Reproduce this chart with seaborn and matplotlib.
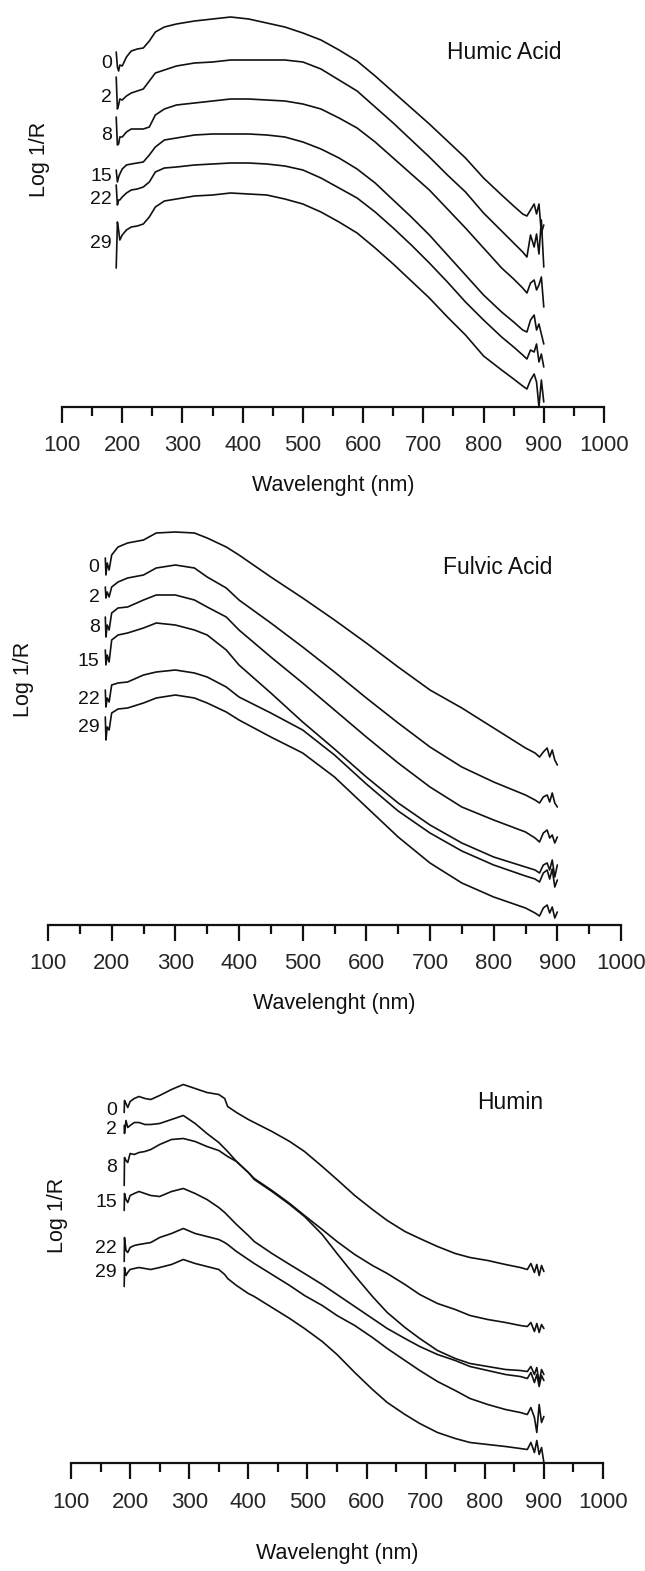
import pandas as pd
import seaborn as sns
import matplotlib.pyplot as plt

# sampling days shown next to each spectrum
days = ['0', '2', '8', '15', '22', '29']

# ---- Humic Acid (wavelength in nm, Log 1/R in arbitrary units) ----
humic_nm = [190, 192, 194, 196, 200, 207, 215, 225, 235, 245, 255, 270, 290, 320, 350, 380, 410, 440,
            470, 500, 530, 560, 590, 620, 650, 680, 710, 740, 770, 800, 830, 850, 865, 872, 878, 884,
            888, 892, 896, 900]
humic_0 = [3.55, 3.40, 3.36, 3.42, 3.41, 3.50, 3.56, 3.58, 3.59, 3.66, 3.75, 3.80, 3.83, 3.86, 3.88, 3.90,
           3.88, 3.84, 3.80, 3.74, 3.67, 3.57, 3.46, 3.31, 3.15, 2.99, 2.83, 2.66, 2.49, 2.29, 2.12, 2.01,
           1.93, 1.91, 1.97, 2.03, 1.93, 2.03, 1.74, 1.82]
humic_2 = [3.30, 2.98, 3.02, 3.08, 3.07, 3.11, 3.14, 3.16, 3.18, 3.26, 3.34, 3.37, 3.41, 3.44, 3.45, 3.47,
           3.47, 3.47, 3.47, 3.45, 3.38, 3.27, 3.16, 3.00, 2.84, 2.67, 2.50, 2.32, 2.15, 1.94, 1.76, 1.64,
           1.55, 1.50, 1.72, 1.60, 1.73, 1.53, 1.87, 1.40]
humic_8 = [2.90, 2.62, 2.63, 2.70, 2.70, 2.75, 2.78, 2.78, 2.78, 2.80, 2.92, 2.98, 3.02, 3.04, 3.06, 3.08,
           3.08, 3.07, 3.06, 3.03, 2.98, 2.89, 2.79, 2.65, 2.49, 2.33, 2.17, 1.98, 1.79, 1.59, 1.39, 1.28,
           1.19, 1.14, 1.24, 1.27, 1.17, 1.22, 1.30, 1.00]
humic_15 = [2.37, 2.25, 2.30, 2.33, 2.38, 2.42, 2.43, 2.44, 2.45, 2.52, 2.60, 2.67, 2.69, 2.72, 2.73, 2.73,
            2.73, 2.72, 2.70, 2.65, 2.58, 2.49, 2.38, 2.24, 2.07, 1.90, 1.72, 1.52, 1.32, 1.12, 0.95, 0.85,
            0.77, 0.75, 0.87, 0.92, 0.77, 0.83, 0.73, 0.63]
humic_22 = [2.22, 2.02, 2.07, 2.07, 2.10, 2.14, 2.17, 2.18, 2.20, 2.25, 2.35, 2.39, 2.40, 2.42, 2.43, 2.44,
            2.44, 2.43, 2.41, 2.37, 2.29, 2.19, 2.09, 1.95, 1.79, 1.62, 1.44, 1.25, 1.05, 0.87, 0.70, 0.60,
            0.52, 0.48, 0.57, 0.55, 0.63, 0.45, 0.53, 0.40]
humic_29 = [1.39, 1.85, 1.77, 1.67, 1.72, 1.77, 1.80, 1.81, 1.83, 1.90, 2.00, 2.06, 2.08, 2.11, 2.12, 2.14,
            2.13, 2.12, 2.08, 2.03, 1.95, 1.85, 1.74, 1.59, 1.43, 1.26, 1.09, 0.90, 0.72, 0.51, 0.37, 0.28,
            0.21, 0.18, 0.27, 0.33, 0.25, 0.00, 0.27, 0.05]

# ---- Fulvic Acid ----
fulvic_nm = [190, 191, 193, 196, 200, 210, 225, 250, 270, 300, 330, 350, 380, 400, 450, 500, 550, 600,
             650, 700, 750, 800, 850, 865, 872, 878, 884, 888, 892, 896, 900]
fulvic_0 = [3.67, 3.50, 3.62, 3.55, 3.70, 3.78, 3.82, 3.85, 3.92, 3.93, 3.92, 3.87, 3.78, 3.70, 3.48, 3.27,
            3.05, 2.82, 2.58, 2.35, 2.17, 1.97, 1.77, 1.72, 1.68, 1.73, 1.77, 1.68, 1.75, 1.65, 1.60]
fulvic_2 = [3.38, 3.27, 3.33, 3.28, 3.38, 3.43, 3.47, 3.50, 3.57, 3.60, 3.57, 3.48, 3.37, 3.25, 3.02, 2.78,
            2.53, 2.27, 2.02, 1.78, 1.58, 1.43, 1.30, 1.25, 1.22, 1.28, 1.30, 1.23, 1.32, 1.22, 1.18]
fulvic_8 = [3.08, 2.88, 3.00, 2.95, 3.12, 3.17, 3.18, 3.25, 3.30, 3.30, 3.25, 3.18, 3.08, 2.95, 2.68, 2.42,
            2.15, 1.88, 1.62, 1.38, 1.18, 1.05, 0.93, 0.87, 0.83, 0.92, 0.95, 0.87, 0.90, 0.82, 0.88]
fulvic_15 = [2.75, 2.60, 2.70, 2.63, 2.85, 2.90, 2.92, 2.97, 3.02, 3.00, 2.95, 2.90, 2.75, 2.60, 2.32, 2.03,
             1.76, 1.48, 1.22, 1.00, 0.82, 0.68, 0.58, 0.55, 0.52, 0.60, 0.62, 0.55, 0.65, 0.48, 0.60]
fulvic_22 = [2.35, 2.18, 2.27, 2.23, 2.40, 2.42, 2.43, 2.50, 2.53, 2.55, 2.52, 2.48, 2.38, 2.28, 2.12, 1.95,
             1.70, 1.41, 1.14, 0.92, 0.74, 0.60, 0.49, 0.46, 0.43, 0.52, 0.55, 0.46, 0.56, 0.38, 0.45]
fulvic_29 = [2.08, 1.85, 1.98, 1.95, 2.12, 2.16, 2.17, 2.22, 2.27, 2.30, 2.27, 2.22, 2.13, 2.05, 1.88, 1.72,
             1.48, 1.18, 0.88, 0.62, 0.42, 0.28, 0.17, 0.12, 0.09, 0.17, 0.20, 0.12, 0.18, 0.07, 0.13]

# ---- Humin ----
humin_nm = [190, 190.5, 193, 196, 200, 207, 215, 225, 235, 250, 270, 290, 310, 330, 350, 360, 365, 380,
            400, 410, 440, 470, 495, 525, 550, 580, 610, 635, 665, 690, 720, 750, 775, 805, 835, 860,
            872, 878, 884, 888, 892, 896, 900]
humin_0 = [3.50, 3.62, 3.59, 3.55, 3.61, 3.64, 3.66, 3.64, 3.63, 3.67, 3.73, 3.78, 3.74, 3.70, 3.68, 3.64,
           3.56, 3.50, 3.43, 3.40, 3.31, 3.21, 3.11, 2.96, 2.83, 2.67, 2.53, 2.42, 2.31, 2.24, 2.16, 2.09,
           2.05, 2.02, 1.98, 1.95, 1.93, 1.99, 1.90, 1.98, 1.87, 1.97, 1.91]
humin_2 = [3.37, 3.29, 3.42, 3.35, 3.37, 3.40, 3.40, 3.38, 3.38, 3.39, 3.43, 3.47, 3.39, 3.29, 3.20, 3.14,
           3.11, 3.01, 2.90, 2.83, 2.71, 2.58, 2.46, 2.28, 2.09, 1.87, 1.66, 1.50, 1.35, 1.24, 1.12, 1.04,
           0.99, 0.96, 0.93, 0.92, 0.91, 0.96, 0.88, 0.95, 0.80, 0.93, 0.88]
humin_8 = [2.77, 3.05, 3.02, 3.00, 3.09, 3.08, 3.10, 3.11, 3.13, 3.18, 3.23, 3.24, 3.21, 3.16, 3.12, 3.08,
           3.06, 3.01, 2.90, 2.84, 2.72, 2.59, 2.47, 2.33, 2.21, 2.08, 1.97, 1.89, 1.78, 1.68, 1.59, 1.53,
           1.47, 1.43, 1.40, 1.37, 1.36, 1.40, 1.31, 1.39, 1.30, 1.38, 1.34]
humin_15 = [2.52, 2.69, 2.63, 2.60, 2.67, 2.69, 2.71, 2.69, 2.67, 2.66, 2.71, 2.74, 2.69, 2.63, 2.55, 2.50,
            2.47, 2.38, 2.27, 2.21, 2.09, 1.98, 1.89, 1.78, 1.68, 1.56, 1.44, 1.34, 1.24, 1.16, 1.08, 1.02,
            0.96, 0.92, 0.88, 0.86, 0.84, 0.90, 0.80, 0.88, 0.76, 0.87, 0.82]
humin_22 = [2.01, 2.25, 2.12, 2.10, 2.15, 2.17, 2.18, 2.19, 2.20, 2.25, 2.29, 2.34, 2.29, 2.26, 2.23, 2.20,
            2.18, 2.11, 2.03, 1.99, 1.88, 1.77, 1.67, 1.57, 1.47, 1.37, 1.25, 1.14, 1.02, 0.92, 0.81, 0.72,
            0.64, 0.58, 0.53, 0.50, 0.48, 0.55, 0.45, 0.30, 0.58, 0.40, 0.46]
humin_29 = [1.76, 1.95, 1.87, 1.90, 1.93, 1.94, 1.95, 1.94, 1.93, 1.95, 1.98, 2.03, 1.99, 1.96, 1.93, 1.88,
            1.84, 1.77, 1.69, 1.66, 1.55, 1.44, 1.34, 1.21, 1.08, 0.90, 0.73, 0.60, 0.48, 0.39, 0.30, 0.24,
            0.20, 0.18, 0.16, 0.14, 0.13, 0.20, 0.10, 0.22, 0.08, 0.15, 0.00]

# where the day labels sit (Log 1/R units) in each panel
humic_label_y = [3.44, 3.10, 2.72, 2.31, 2.08, 1.64]
fulvic_label_y = [3.57, 3.28, 2.97, 2.63, 2.25, 1.97]
humin_label_y = [3.52, 3.33, 2.95, 2.60, 2.14, 1.90]

sns.set_theme(style='white')
plt.rcParams['font.family'] = ['Liberation Sans', 'DejaVu Sans']

W, H = 645, 1571
fig = plt.figure(figsize=(W / 100, H / 100), dpi=100)


def long_table(nm, curves):
    frames = []
    for day, vals in zip(days, curves):
        frames.append(pd.DataFrame({'nm': nm, 'logR': vals, 'day': day}))
    return pd.concat(frames, ignore_index=True)


# panel boxes in pixels: x of 100 nm, x of 1000 nm, y of the axis line
panels = [
    dict(name='Humic Acid', nm=humic_nm, curves=[humic_0, humic_2, humic_8, humic_15, humic_22, humic_29],
         lab_y=humic_label_y, x0=62, x1=604, yax=407, lab_x=183, name_xy=(834, 3.55), ylab=(40, 159),
         pad=9, xlab=-0.17),
    dict(name='Fulvic Acid', nm=fulvic_nm, curves=[fulvic_0, fulvic_2, fulvic_8, fulvic_15, fulvic_22, fulvic_29],
         lab_y=fulvic_label_y, x0=48, x1=621, yax=925, lab_x=181, name_xy=(807, 3.57), ylab=(23, 679),
         pad=9, xlab=-0.17),
    dict(name='Humin', nm=humin_nm, curves=[humin_0, humin_2, humin_8, humin_15, humin_22, humin_29],
         lab_y=humin_label_y, x0=71, x1=603, yax=1462.5, lab_x=178, name_xy=(843, 3.60), ylab=(58, 1215),
         pad=10, xlab=-0.20),
]

for p in panels:
    hpx = 400
    ax = fig.add_axes([p['x0'] / W, 1 - p['yax'] / H, (p['x1'] - p['x0']) / W, hpx / H])
    df = long_table(p['nm'], p['curves'])
    sns.lineplot(data=df, x='nm', y='logR', units='day', estimator=None, sort=False,
                 color='#111111', linewidth=1.2, ax=ax, legend=False)
    for line in ax.lines:
        line.set_clip_on(False)
        line.set_solid_joinstyle('round')

    ax.set_xlim(100, 1000)
    ax.set_ylim(0, 4.0)
    ax.set_facecolor('none')
    for s in ['top', 'right', 'left']:
        ax.spines[s].set_visible(False)
    ax.spines['bottom'].set_linewidth(1.6)
    ax.spines['bottom'].set_color('#111111')
    ax.set_yticks([])
    ax.set_xticks(range(100, 1001, 100))
    ax.set_xticks(range(150, 1000, 100), minor=True)
    ax.tick_params(axis='x', which='major', direction='out', length=11.5, width=1.6,
                   color='#111111', labelsize=16, pad=p['pad'], bottom=True)
    ax.tick_params(axis='x', which='minor', direction='out', length=6.5, width=1.6,
                   color='#111111', bottom=True)
    ax.set_xlabel('Wavelenght (nm)', fontsize=15.5, color='#111111')
    ax.xaxis.set_label_coords(0.5, p['xlab'])
    ax.set_ylabel('')

    for day, yv in zip(days, p['lab_y']):
        ax.text(p['lab_x'], yv, day, ha='right', va='center', fontsize=14, color='#111111')
    ax.text(p['name_xy'][0], p['name_xy'][1], p['name'], ha='center', va='center',
            fontsize=16.5, color='#111111')
    fig.text(p['ylab'][0] / W, 1 - p['ylab'][1] / H, 'Log 1/R', rotation=90,
             ha='center', va='center', fontsize=15.5, color='#111111')

plt.savefig('out.png', dpi=100)
